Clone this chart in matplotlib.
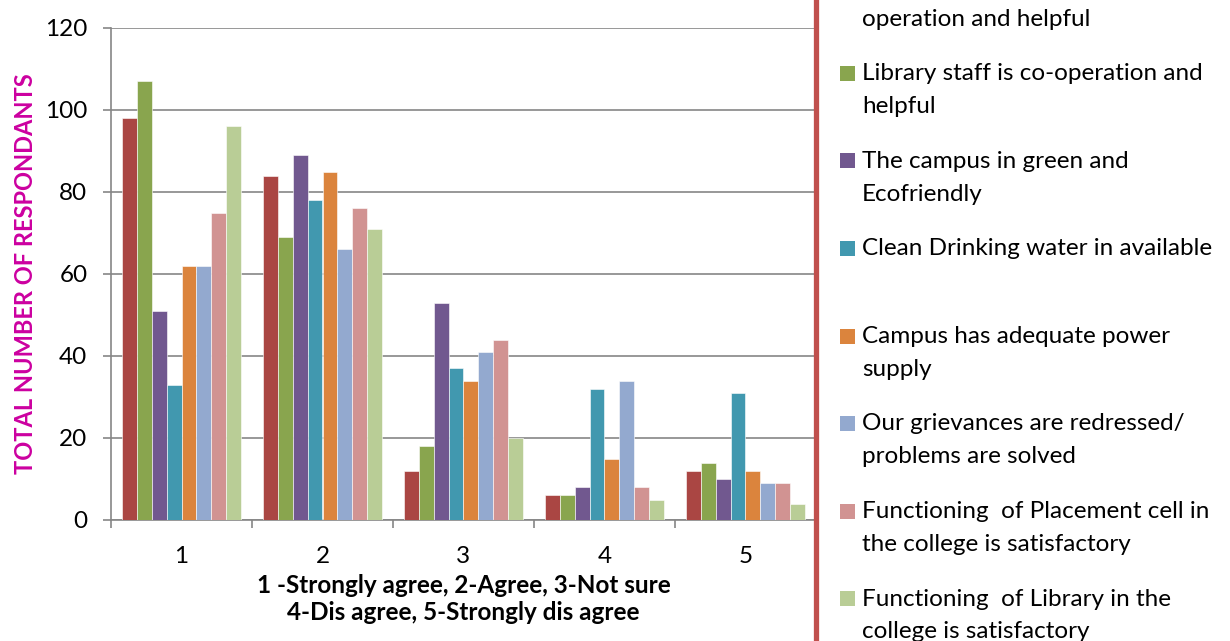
import numpy as np
import matplotlib
matplotlib.use("Agg")
import matplotlib.pyplot as plt
from matplotlib.patches import Rectangle
from matplotlib.lines import Line2D

plt.rcParams['font.family'] = ['Lato', 'DejaVu Sans']

# survey data: rows = answer (1..5), one list per statement
categories = ['1', '2', '3', '4', '5']
series_names = [
    "Teaching staff is co-\noperation and helpful",
    "Library staff is co-operation and\nhelpful",
    "The campus in green and\nEcofriendly",
    "Clean Drinking water in available",
    "Campus has adequate power\nsupply",
    "Our grievances are redressed/\nproblems are solved",
    "Functioning  of Placement cell in\nthe college is satisfactory",
    "Functioning  of Library in the\ncollege is satisfactory",
]
teaching = [98, 84, 12, 6, 12]
library_staff = [107, 69, 18, 6, 14]
green_campus = [51, 89, 53, 8, 10]
drinking_water = [33, 78, 37, 32, 31]
power_supply = [62, 85, 34, 15, 12]
grievances = [62, 66, 41, 34, 9]
placement = [75, 76, 44, 8, 9]
library_func = [96, 71, 20, 5, 4]
all_series = [teaching, library_staff, green_campus, drinking_water,
              power_supply, grievances, placement, library_func]
colors = ['#AA4643', '#89A54E', '#71588F', '#4198AF',
          '#DB843D', '#93A9CF', '#D19392', '#B9CD96']

W, H = 1230, 641
fig = plt.figure(figsize=(W / 100, H / 100), dpi=100)

# plot area in pixels
left, right, top, bottom = 111, 816, 28, 520
ax = fig.add_axes([left / W, 1 - bottom / H, (right - left) / W, (bottom - top) / H])

x = np.arange(len(categories))
bw = 1 / 9.5
for j, vals in enumerate(all_series):
    ax.bar(x + (j - 3.5) * bw, vals, width=bw, color=colors[j],
           edgecolor='white', linewidth=0.4, zorder=3)

ax.set_xlim(-0.5, len(categories) - 0.5)
ax.set_ylim(0, 120)
ax.set_yticks(range(0, 121, 20))
ax.set_xticks(x)
ax.set_xticklabels(categories)
ax.set_xticks(np.arange(-0.5, len(categories), 1), minor=True)
ax.tick_params(axis='x', which='major', length=0, pad=19, labelsize=17.5)
ax.tick_params(axis='x', which='minor', length=6, color='#868686', width=1.2)
ax.tick_params(axis='y', length=6, color='#868686', width=1.2, labelsize=17.5, pad=11)
ax.grid(axis='y', color='#868686', linewidth=1.2, zorder=0)
for s in ['top', 'right']:
    ax.spines[s].set_visible(False)
for s in ['left', 'bottom']:
    ax.spines[s].set_color('#868686')
    ax.spines[s].set_linewidth(1.2)

ax.set_ylabel('TOTAL NUMBER OF RESPONDANTS', color='#CC00A0', fontsize=17,
              fontweight='bold', labelpad=6)
ax.set_xlabel('1 -Strongly agree, 2-Agree, 3-Not sure\n4-Dis agree, 5-Strongly dis agree',
              fontsize=17.5, fontweight='bold', labelpad=5, linespacing=1.2)

# red separator line
fig.add_artist(Line2D([815.5 / W] * 2, [0, 1], color='#C0504D', linewidth=3.8,
                      transform=fig.transFigure))

# legend drawn by hand, first entry partly above the canvas
y0 = -14
step = 87.5
for j, name in enumerate(series_names):
    yc = y0 + j * step
    fig.add_artist(Rectangle((840 / W, 1 - (yc + 7.5) / H), 15 / W, 15 / H,
                             facecolor=colors[j], edgecolor='none',
                             transform=fig.transFigure))
    fig.text(862 / W, 1 - (yc - 10) / H, name, fontsize=17.5, va='top', ha='left',
             linespacing=1.68)

fig.savefig('out.png', dpi=100)
